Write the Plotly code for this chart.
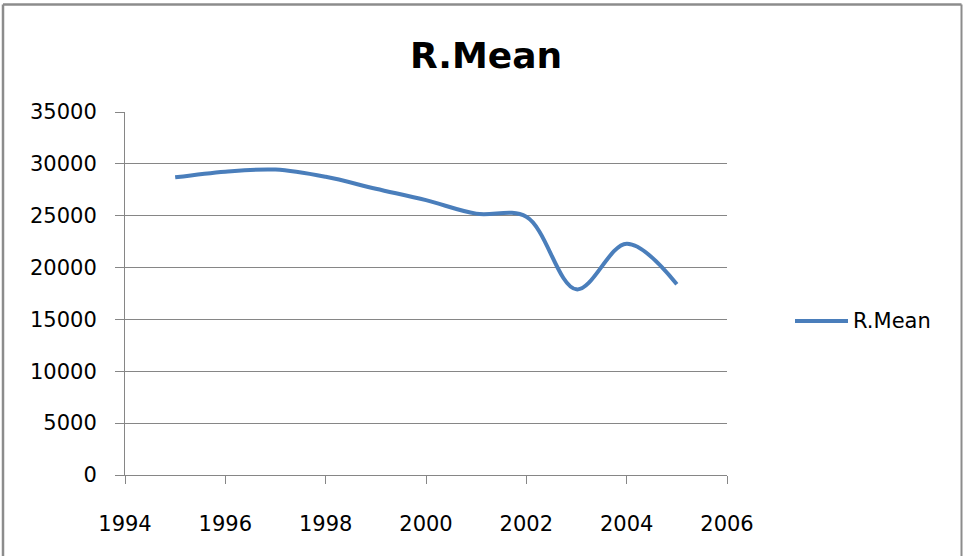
import plotly.graph_objects as go

# Yearly R.Mean values
years = [1995, 1996, 1997, 1998, 1999, 2000, 2001, 2002, 2003, 2004, 2005]
r_mean = [28700, 29250, 29450, 28750, 27600, 26500, 25200, 24900, 17900, 22300, 18400]

series_name = "R.Mean"
line_color = "#4a7ebb"
grid_color = "#868686"
font_family = "DejaVu Sans"

fig = go.Figure()
fig.add_trace(go.Scatter(
    x=years, y=r_mean, name=series_name, mode="lines",
    line=dict(color=line_color, width=4, shape="spline", smoothing=1),
    showlegend=False,
))

# Plot area spans 125..727 px horizontally and 112..475 px vertically
W, H = 963, 556
L, R, T, B = 125, 727, 112, 475
pw, ph = R - L, B - T

def px(x):
    return (x - L) / pw

def py(y):
    return (B - y) / ph

shapes = [
    # outer chart border (left, top, right)
    dict(type="line", xref="paper", yref="paper", x0=px(3), x1=px(3), y0=py(4.5), y1=py(600),
         line=dict(color="#8c8c8c", width=2.5)),
    dict(type="line", xref="paper", yref="paper", x0=px(3), x1=px(961.5), y0=py(4.5), y1=py(4.5),
         line=dict(color="#8c8c8c", width=2.5)),
    dict(type="line", xref="paper", yref="paper", x0=px(961.5), x1=px(961.5), y0=py(4.5), y1=py(600),
         line=dict(color="#8c8c8c", width=2)),
    # legend key line
    dict(type="line", xref="paper", yref="paper", x0=px(795), x1=px(848), y0=py(321), y1=py(321),
         line=dict(color=line_color, width=4)),
]

annotations = [
    dict(text=series_name, xref="paper", yref="paper", x=px(851), y=py(321),
         xanchor="left", yanchor="middle", showarrow=False,
         font=dict(family=font_family, size=21, color="#000000")),
]

fig.update_layout(
    width=W, height=H,
    margin=dict(l=L, r=W - R, t=T, b=H - B),
    paper_bgcolor="white", plot_bgcolor="white",
    title=dict(text="<b>R.Mean</b>", x=486 / W, xref="container", xanchor="center",
               y=1 - 55 / H, yref="container", yanchor="middle",
               font=dict(family=font_family, size=36, color="#000000")),
    shapes=shapes,
    annotations=annotations,
    xaxis=dict(range=[1994, 2006], dtick=2, tick0=1994, showgrid=False, zeroline=False,
               showline=True, linecolor=grid_color, linewidth=1,
               ticks="outside", ticklen=8, tickcolor=grid_color, tickwidth=1,
               ticklabelstandoff=22, tickformat="d",
               tickfont=dict(family=font_family, size=21, color="#000000")),
    yaxis=dict(range=[0, 35000], dtick=5000, tick0=0, showgrid=True, gridcolor=grid_color,
               gridwidth=1, zeroline=False, showline=True, linecolor=grid_color, linewidth=1,
               ticks="outside", ticklen=9, tickcolor=grid_color, tickwidth=1,
               ticklabelstandoff=14, tickformat="d",
               tickfont=dict(family=font_family, size=21, color="#000000")),
)

fig.write_html("out.html")
